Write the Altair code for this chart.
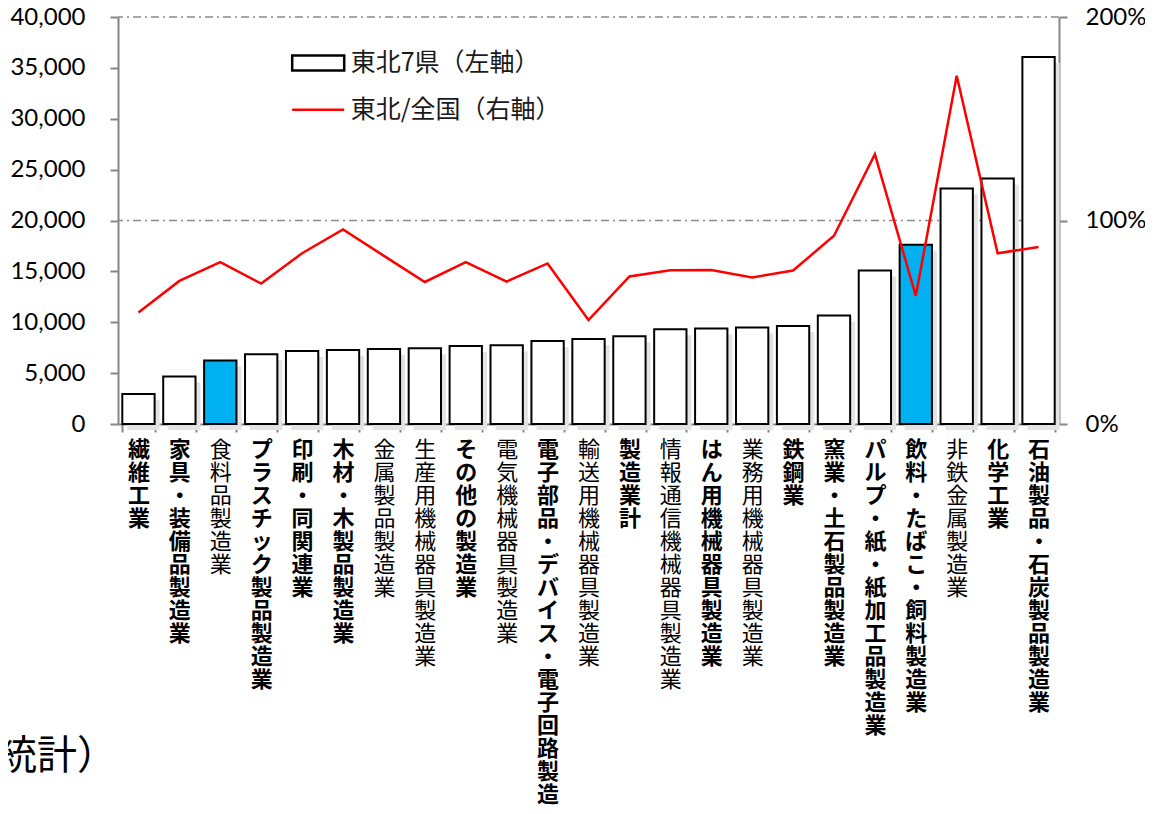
import json
import altair as alt
import pandas as pd

# ---------------- data ----------------
categories = [
    "繊維工業", "家具・装備品製造業", "食料品製造業", "プラスチック製品製造業",
    "印刷・同関連業", "木材・木製品製造業", "金属製品製造業", "生産用機械器具製造業",
    "その他の製造業", "電気機械器具製造業", "電子部品・デバイス・電子回路製造業",
    "輸送用機械器具製造業", "製造業計", "情報通信機械器具製造業", "はん用機械器具製造業",
    "業務用機械器具製造業", "鉄鋼業", "窯業・土石製品製造業", "パルプ・紙・紙加工品製造業",
    "飲料・たばこ・飼料製造業", "非鉄金属製造業", "化学工業", "石油製品・石炭製品製造業",
]
tohoku_values = [
    2950, 4660, 6230, 6850, 7180, 7280, 7380, 7440, 7670, 7740, 8160,
    8360, 8620, 9310, 9380, 9480, 9640, 10660, 15080, 17610, 23150, 24130, 36070,
]
ratio_values = [
    0.548, 0.703, 0.795, 0.690, 0.839, 0.956, 0.826, 0.698, 0.795, 0.700, 0.789,
    0.511, 0.725, 0.756, 0.757, 0.720, 0.754, 0.925, 1.326, 0.630, 1.711, 0.839, 0.870,
]
left_ticks = [0, 5000, 10000, 15000, 20000, 25000, 30000, 35000, 40000]
right_ticks = [0, 1, 2]
grid_values = [20000, 40000]
highlighted = ["食料品製造業", "飲料・たばこ・飼料製造業"]
normal_weight_labels = [
    "食料品製造業", "金属製品製造業", "生産用機械器具製造業", "電気機械器具製造業",
    "輸送用機械器具製造業", "情報通信機械器具製造業", "業務用機械器具製造業", "非鉄金属製造業",
]
bar_series = "東北7県（左軸）"
line_series = "東北/全国（右軸）"
note_text = ["統計）"]

df = pd.DataFrame({"category": categories, "value": tohoku_values, "ratio": ratio_values})
grid_df = pd.DataFrame({"value": grid_values})
note_df = pd.DataFrame({"t": note_text})

# ---------------- style ----------------
FONT_NUM = "Lato"
FONT_JP = "Noto Sans CJK JP"
GRAY = "#868686"

x_axis = alt.Axis(
    title=None,
    labelExpr="split(datum.label, '')",
    labelAngle=0, labelAlign="center", labelBaseline="top",
    labelFont=FONT_JP, labelFontSize=22, labelLineHeight=23, labelPadding=7,
    labelColor="black",
    labelFontWeight={
        "condition": {
            "test": "indexof(" + json.dumps(normal_weight_labels, ensure_ascii=False) + ", datum.value) >= 0",
            "value": "normal",
        },
        "value": "bold",
    },
    labelOverlap=False, labelLimit=0,
    tickBand="extent", tickSize=8, tickColor=GRAY, tickWidth=2,
    domainColor=GRAY, domainWidth=2, grid=False,
)
x_enc = alt.X("category:N", sort=categories,
              scale=alt.Scale(paddingInner=0.21, paddingOuter=0.105), axis=x_axis)

y_left_axis = alt.Axis(
    title=None, values=left_ticks, format=",.0f",
    labelFont=FONT_NUM, labelFontSize=24, labelColor="black", labelPadding=25,
    tickSize=8, tickColor=GRAY, tickWidth=2, domainColor=GRAY, domainWidth=2, grid=False,
)
y_left = alt.Y("value:Q", scale=alt.Scale(domain=[0, 40000], nice=False), axis=y_left_axis)

y_right_axis = alt.Axis(
    title=None, orient="right", values=right_ticks, format=".0%",
    labelFont=FONT_NUM, labelFontSize=24, labelColor="black", labelPadding=18,
    tickSize=8, tickColor=GRAY, tickWidth=2, domainColor=GRAY, domainWidth=2, grid=False,
)
y_right = alt.Y("ratio:Q", scale=alt.Scale(domain=[0, 2], nice=False), axis=y_right_axis)

bar_legend = alt.Legend(
    title=None, orient="none", legendX=172.7, legendY=18.5, padding=0,
    symbolType="M-1,-0.29H1V0.29H-1Z", symbolSize=2704, symbolStrokeWidth=2.5,
    symbolFillColor="white", labelFont=FONT_JP, labelFontSize=25, labelColor="#1a1a1a",
    labelOffset=5, labelLimit=0,
)
line_legend = alt.Legend(
    title=None, orient="none", legendX=172.7, legendY=65.3, padding=0,
    symbolType="stroke", symbolSize=2704, symbolStrokeWidth=2.5,
    labelFont=FONT_JP, labelFontSize=25, labelColor="#1a1a1a",
    labelOffset=5, labelLimit=0,
)

grid = alt.Chart(grid_df).mark_rule(
    color="#8c8c8c", strokeWidth=1.5, strokeDash=[8, 4, 2, 4]
).encode(y=y_left)

shadow = alt.Chart(df).mark_bar(fill="#e3e3e3", xOffset=5, yOffset=6).encode(x=x_enc, y=y_left)

bars = alt.Chart(df).transform_calculate(
    series=json.dumps(bar_series, ensure_ascii=False)
).mark_bar(strokeWidth=2).encode(
    x=x_enc,
    y=y_left,
    fill=alt.condition(alt.FieldOneOfPredicate(field="category", oneOf=highlighted),
                       alt.value("#00B0F0"), alt.value("white")),
    stroke=alt.Stroke("series:N", scale=alt.Scale(range=["black"]), legend=bar_legend),
)

left = alt.layer(grid, shadow, bars)

line = alt.Chart(df).transform_calculate(
    series2=json.dumps(line_series, ensure_ascii=False)
).mark_line(strokeWidth=2.5).encode(
    x=x_enc,
    y=y_right,
    stroke=alt.Stroke("series2:N", scale=alt.Scale(range=["#FF0000"]), legend=line_legend),
)

note = alt.Chart(note_df).mark_text(
    align="left", baseline="middle", font=FONT_JP, fontSize=40, color="black"
).encode(text="t:N", x=alt.value(-121), y=alt.value(740))

chart = alt.layer(left, line, note).resolve_scale(
    y="independent", stroke="independent"
).properties(
    width=941, height=407,
    autosize=alt.AutoSizeParams(type="none"),
    padding={"left": 110, "top": 9, "right": 86, "bottom": 382},
    background="white",
).configure_view(stroke=None)

chart.save("out.html", embed_options={"renderer": "svg", "actions": False})
